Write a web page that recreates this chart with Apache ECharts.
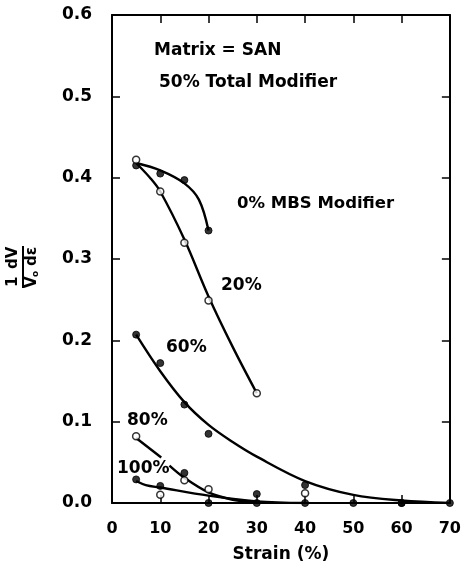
<!DOCTYPE html>
<html>
<head>
<meta charset="utf-8">
<script src="https://cdn.jsdelivr.net/npm/echarts@6/dist/echarts.min.js"></script>
<style>
  html, body { margin: 0; padding: 0; background: #fff; }
  #main { width: 464px; height: 568px; }
</style>
</head>
<body>
<div id="main"></div>
<script>
// measured points (strain %, 1/V0 dV/de)
var filled0 = [[5, 0.415], [10, 0.405], [15, 0.397], [20, 0.335]];
var open20 = [[5, 0.422], [10, 0.383], [15, 0.320], [20, 0.249], [30, 0.135]];
var filled60 = [[5, 0.207], [10, 0.172], [15, 0.121], [20, 0.085], [30, 0.011], [40, 0.022], [50, 0], [60, 0], [70, 0]];
var open80 = [[5, 0.082], [10, 0.010], [15, 0.028], [20, 0.017], [40, 0.012]];
var filled80 = [[15, 0.037]];
var filled100 = [[5, 0.029], [10, 0.021], [20, 0], [30, 0], [40, 0], [60, 0]];

// fitted curves
var curve0 = [[5, 0.418], [10, 0.409], [15, 0.393], [18, 0.373], [20, 0.335]];
var curve20 = [[5, 0.418], [8, 0.399], [10, 0.383], [15, 0.324], [20, 0.254], [25, 0.192], [30, 0.135]];
var curve60 = [[5, 0.207], [10, 0.162], [15, 0.124], [20, 0.096], [25, 0.075], [30, 0.057], [40, 0.027], [50, 0.010], [60, 0.003], [70, 0]];
var curve80a = [[5, 0.080], [10.2, 0.056]];
var curve80b = [[11.9, 0.046], [15, 0.031], [20, 0.013], [25, 0.004], [30, 0.0005]];
var curve100 = [[5, 0.027], [7, 0.022], [10, 0.019], [20, 0.009], [30, 0.002], [40, 0]];

var xTicks = [0, 10, 20, 30, 40, 50, 60, 70];
var yTicks = [0, 0.1, 0.2, 0.3, 0.4, 0.5, 0.6];

var chart = echarts.init(document.getElementById('main'));
var font = '"DejaVu Sans", sans-serif';

function curve(data) {
    return {
        type: 'line', data: data, smooth: 0.35, symbol: 'none', z: 2,
        lineStyle: { color: '#000', width: 2.4 }
    };
}
function pts(data, open) {
    return {
        type: 'scatter', data: data, symbol: 'circle', symbolSize: 7, z: 3,
        itemStyle: open ? { color: '#fff', borderColor: '#000', borderWidth: 1.5 }
                        : { color: '#000', borderColor: '#000', borderWidth: 1 }
    };
}

var axisCommon = {
    type: 'value',
    axisLine: { show: true, onZero: false, lineStyle: { color: '#000', width: 2 } },
    axisTick: { show: true, inside: true, length: 8, lineStyle: { color: '#000', width: 1.5 } },
    splitLine: { show: false }
};

var option = {
    backgroundColor: '#fff',
    animation: false,
    grid: { left: 112, right: 13, top: 15, bottom: 64 },
    xAxis: [
        Object.assign({}, axisCommon, {
            min: 0, max: 70, interval: 10, position: 'bottom',
            name: 'Strain (%)', nameLocation: 'middle', nameGap: 43,
            nameTextStyle: { fontFamily: font, fontWeight: 'bold', fontSize: 17, color: '#000' },
            axisLabel: { margin: 18, fontFamily: font, fontWeight: 'bold', fontSize: 16, color: '#000',
                formatter: function (v) { return xTicks.indexOf(v) >= 0 ? String(v) : ''; } }
        }),
        Object.assign({}, axisCommon, {
            min: 0, max: 70, interval: 10, position: 'top',
            axisLabel: { show: false }
        })
    ],
    yAxis: [
        Object.assign({}, axisCommon, {
            min: 0, max: 0.6, interval: 0.1, position: 'left',
            axisLabel: { margin: 20, fontFamily: font, fontWeight: 'bold', fontSize: 17, color: '#000',
                formatter: function (v) { return v.toFixed(1); } }
        }),
        Object.assign({}, axisCommon, {
            min: 0, max: 0.6, interval: 0.1, position: 'right',
            axisLabel: { show: false }
        })
    ],
    series: [
        curve(curve0), curve(curve20), curve(curve60),
        curve(curve80a), curve(curve80b), curve(curve100),
        pts(filled0, false), pts(open20, true), pts(filled60, false),
        pts(open80, true), pts(filled80, false), pts(filled100, false)
    ],
    graphic: [
        { type: 'text', left: 154, top: 42, style: { text: 'Matrix = SAN', font: 'bold 17px ' + font, fill: '#000' } },
        { type: 'text', left: 159, top: 74, style: { text: '50% Total Modifier', font: 'bold 17px ' + font, fill: '#000' } },
        { type: 'text', left: 237, top: 195, style: { text: '0% MBS Modifier', font: 'bold 16.5px ' + font, fill: '#000' } },
        { type: 'text', left: 221, top: 277, style: { text: '20%', font: 'bold 17px ' + font, fill: '#000' } },
        { type: 'text', left: 166, top: 339, style: { text: '60%', font: 'bold 17px ' + font, fill: '#000' } },
        { type: 'text', left: 127, top: 412, style: { text: '80%', font: 'bold 17px ' + font, fill: '#000' } },
        { type: 'text', left: 117, top: 460, style: { text: '100%', font: 'bold 17px ' + font, fill: '#000' } },
        {
            type: 'group', x: 23, y: 267, rotation: Math.PI / 2,
            children: [
                { type: 'text', x: -20, y: -17, style: { text: '1', font: 'bold 15px ' + font, fill: '#000' } },
                { type: 'text', x: -2, y: -17, style: { text: 'dV', font: 'bold 15px ' + font, fill: '#000' } },
                { type: 'line', shape: { x1: -21, y1: 0, x2: 21, y2: 0 }, style: { stroke: '#000', lineWidth: 2 } },
                { type: 'text', x: -21, y: 2, style: { text: 'V', font: 'bold 15px ' + font, fill: '#000' } },
                { type: 'text', x: -10, y: 8, style: { text: 'o', font: 'bold 9px ' + font, fill: '#000' } },
                { type: 'text', x: 1, y: 2, style: { text: 'd\u03b5', font: 'bold 15px ' + font, fill: '#000' } }
            ]
        }
    ]
};
option.series.forEach(function (s) { s.xAxisIndex = 0; s.yAxisIndex = 0; });
chart.setOption(option);
</script>
</body>
</html>
